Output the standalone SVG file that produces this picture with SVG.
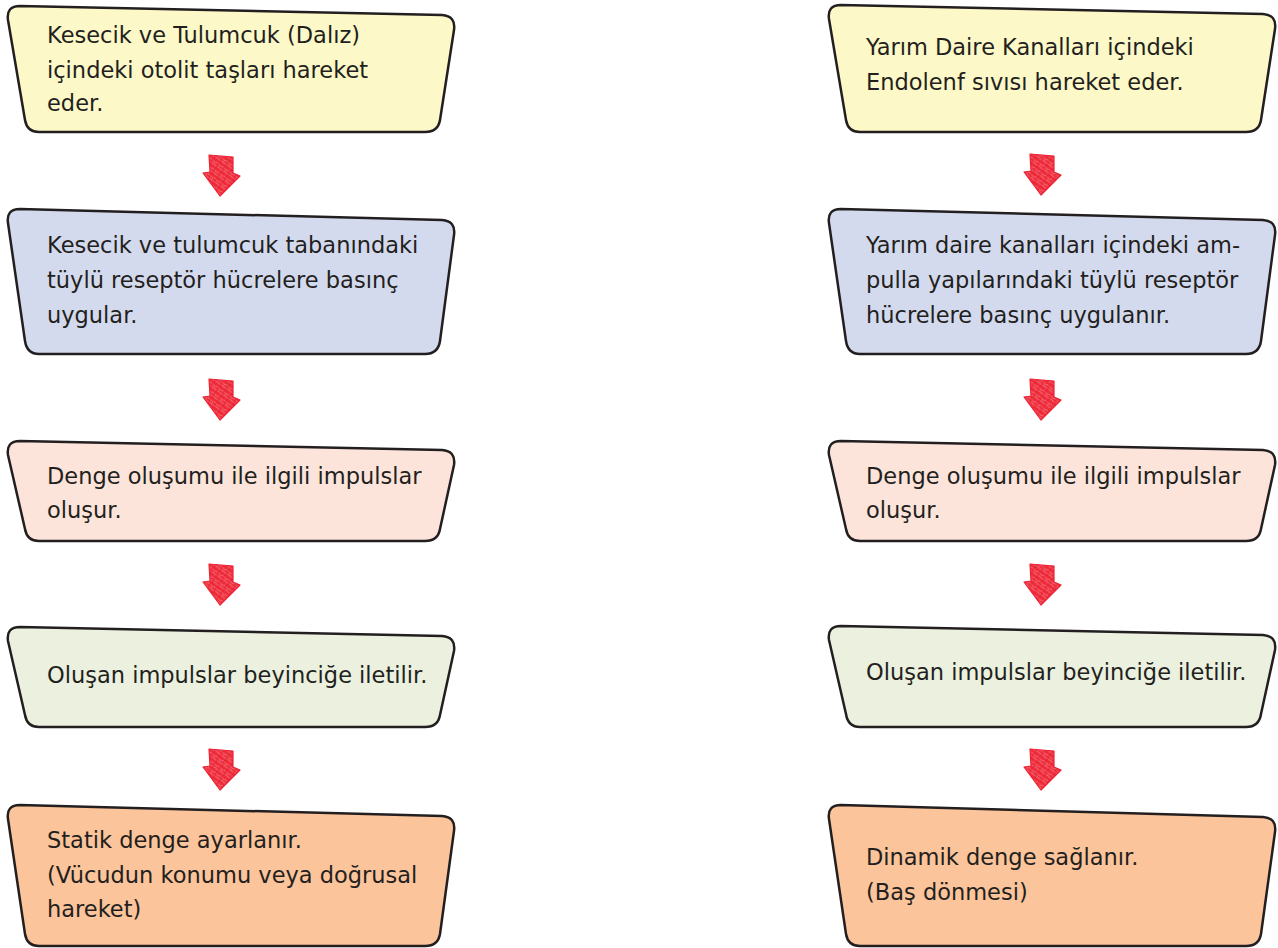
<svg xmlns="http://www.w3.org/2000/svg" xmlns:xlink="http://www.w3.org/1999/xlink" width="1278" height="948" viewBox="0 0 1278 948">
  <style>
    .box { stroke: #231f20; stroke-width: 2.5; stroke-linejoin: round; }
    .yellow { fill: #fdf8c7; }
    .blue { fill: #d4daee; }
    .pink { fill: #fce4da; }
    .green { fill: #ebf1de; }
    .orange { fill: #fcc49a; }
    .lbl { font-family: "DejaVu Sans", "Noto Sans", sans-serif; font-size: 22.5px; fill: #231f20; }
  </style>
  <defs>
    <!-- hand-shaded texture for the arrows -->
    <pattern id="scribble" patternUnits="userSpaceOnUse" width="7" height="7" patternTransform="rotate(35)">
      <rect width="7" height="7" fill="#ef2b3a"/>
      <path d="M0,1.5 L7,2.5 M0,5 L7,4.5" stroke="#f98a93" stroke-width="0.7" fill="none"/>
      <path d="M2.5,0 L3.5,7" stroke="#e01a2c" stroke-width="0.7" fill="none"/>
    </pattern>
    <g id="down-arrow">
      <path d="M-12,0 L12,2 L12,18 L19,21 L-1,41 L-18,18 L-11,17 Z" fill="url(#scribble)" stroke="#ec2234" stroke-width="1.2" stroke-linejoin="round"/>
    </g>
  </defs>

  <rect width="1278" height="948" fill="#ffffff"/>

  <!-- connectors: red down arrows between steps -->
  <g id="connectors">
    <use xlink:href="#down-arrow" transform="translate(221,155)"/>
    <use xlink:href="#down-arrow" transform="translate(221,379)"/>
    <use xlink:href="#down-arrow" transform="translate(221,564)"/>
    <use xlink:href="#down-arrow" transform="translate(221,749)"/>
    <use xlink:href="#down-arrow" transform="translate(1042,154)"/>
    <use xlink:href="#down-arrow" transform="translate(1042,379)"/>
    <use xlink:href="#down-arrow" transform="translate(1042,564)"/>
    <use xlink:href="#down-arrow" transform="translate(1042,749)"/>
  </g>

  <!-- left column: static balance -->
  <g id="left-1">
    <path class="box yellow" transform="translate(6,6)" d="M14,0 L436,9 Q450,10 448,24 L434,114 Q432,126 419,126 L33,126 Q21,126 19,114 L2,14 Q0,0 14,0 Z"/>
    <text class="lbl" x="47" y="43">Kesecik ve Tulumcuk (Dalız)</text>
    <text class="lbl" x="47" y="78">içindeki otolit taşları hareket</text>
    <text class="lbl" x="47" y="111">eder.</text>
  </g>
  <g id="left-2">
    <path class="box blue" transform="translate(6,209)" d="M14,0 L436,11 Q450,12 448,26 L434,132 Q432,145 419,145 L33,145 Q21,145 19,132 L2,14 Q0,0 14,0 Z"/>
    <text class="lbl" x="47" y="253">Kesecik ve tulumcuk tabanındaki</text>
    <text class="lbl" x="47" y="288">tüylü reseptör hücrelere basınç</text>
    <text class="lbl" x="47" y="323">uygular.</text>
  </g>
  <g id="left-3">
    <path class="box pink" transform="translate(6,441)" d="M14,0 L436,9 Q450,10 448,24 L434,88 Q432,100 419,100 L33,100 Q21,100 19,88 L2,14 Q0,0 14,0 Z"/>
    <text class="lbl" x="47" y="484">Denge oluşumu ile ilgili impulslar</text>
    <text class="lbl" x="47" y="518">oluşur.</text>
  </g>
  <g id="left-4">
    <path class="box green" transform="translate(6,627)" d="M14,0 L436,9 Q450,10 448,24 L434,88 Q432,100 419,100 L33,100 Q21,100 19,88 L2,14 Q0,0 14,0 Z"/>
    <text class="lbl" x="47" y="683">Oluşan impulslar beyinciğe iletilir.</text>
  </g>
  <g id="left-5">
    <path class="box orange" transform="translate(6,805)" d="M14,0 L436,11 Q450,12 448,26 L434,129 Q432,141 419,141 L33,141 Q21,141 19,129 L2,14 Q0,0 14,0 Z"/>
    <text class="lbl" x="47" y="848">Statik denge ayarlanır.</text>
    <text class="lbl" x="47" y="883">(Vücudun konumu veya doğrusal</text>
    <text class="lbl" x="47" y="917">hareket)</text>
  </g>

  <!-- right column: dynamic balance -->
  <g id="right-1">
    <path class="box yellow" transform="translate(827,5)" d="M14,0 L436,9 Q450,10 448,24 L434,115 Q432,127 419,127 L33,127 Q21,127 19,115 L2,14 Q0,0 14,0 Z"/>
    <text class="lbl" x="866" y="55">Yarım Daire Kanalları içindeki</text>
    <text class="lbl" x="866" y="90">Endolenf sıvısı hareket eder.</text>
  </g>
  <g id="right-2">
    <path class="box blue" transform="translate(827,209)" d="M14,0 L436,11 Q450,12 448,26 L434,132 Q432,145 419,145 L33,145 Q21,145 19,132 L2,14 Q0,0 14,0 Z"/>
    <text class="lbl" x="866" y="253">Yarım daire kanalları içindeki am-</text>
    <text class="lbl" x="866" y="288">pulla yapılarındaki tüylü reseptör</text>
    <text class="lbl" x="866" y="323">hücrelere basınç uygulanır.</text>
  </g>
  <g id="right-3">
    <path class="box pink" transform="translate(827,441)" d="M14,0 L436,9 Q450,10 448,24 L434,88 Q432,100 419,100 L33,100 Q21,100 19,88 L2,14 Q0,0 14,0 Z"/>
    <text class="lbl" x="866" y="484">Denge oluşumu ile ilgili impulslar</text>
    <text class="lbl" x="866" y="518">oluşur.</text>
  </g>
  <g id="right-4">
    <path class="box green" transform="translate(827,626)" d="M14,0 L436,9 Q450,10 448,24 L434,88 Q432,101 419,101 L33,101 Q21,101 19,88 L2,14 Q0,0 14,0 Z"/>
    <text class="lbl" x="866" y="680">Oluşan impulslar beyinciğe iletilir.</text>
  </g>
  <g id="right-5">
    <path class="box orange" transform="translate(827,805)" d="M14,0 L436,12 Q450,13 448,27 L434,129 Q432,141 419,141 L33,141 Q21,141 19,129 L2,14 Q0,0 14,0 Z"/>
    <text class="lbl" x="866" y="865">Dinamik denge sağlanır.</text>
    <text class="lbl" x="866" y="900">(Baş dönmesi)</text>
  </g>
</svg>
